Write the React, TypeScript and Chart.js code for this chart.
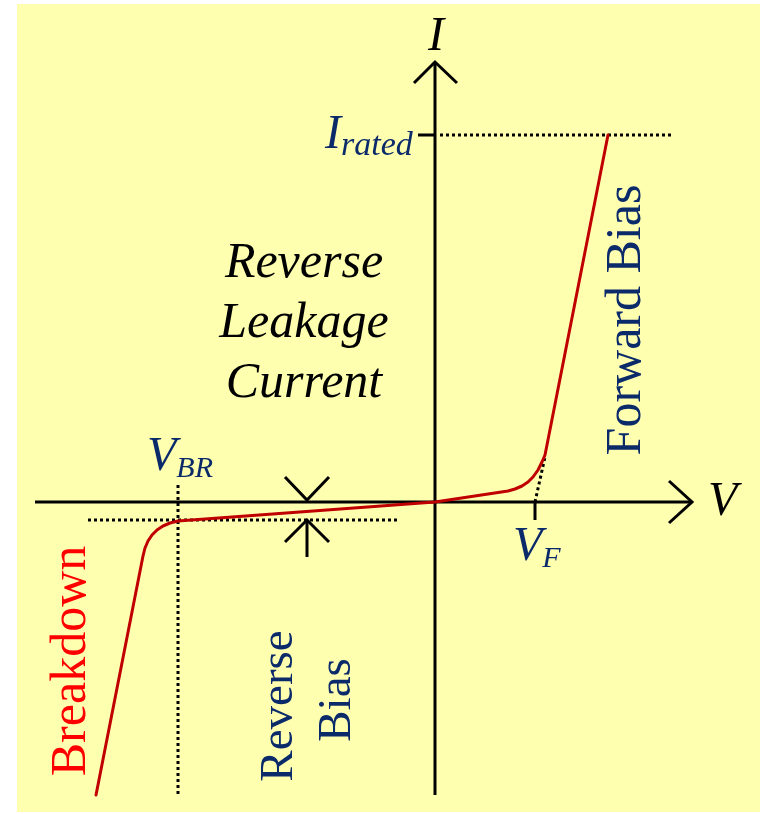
import React, { useEffect, useRef } from "react";
import { Chart, registerables } from "chart.js";
Chart.register(...registerables);

// ---- data (V in arbitrary volts-like units, I in arbitrary current units) ----
const curveV = [
  -3.39, -2.92, -2.9, -2.87, -2.83, -2.78, -2.72, -2.65, -2.57, 0,
  0.73, 0.8, 0.87, 0.93, 0.98, 1.03, 1.07, 1.1, 1.73,
];
const curveI = [
  -2.93, -0.54, -0.46, -0.39, -0.33, -0.28, -0.24, -0.21, -0.19, 0,
  0.11, 0.13, 0.16, 0.2, 0.25, 0.32, 0.4, 0.47, 3.67,
];

const V_BR = -2.57;
const V_F = 1.0;
const I_RATED = 3.67;
const I_LEAK = -0.18;

const V_AXIS = [-4.0, 2.57];
const I_AXIS = [-2.93, 4.4];

const V_RANGE = [-4.35, 3.25];
const I_RANGE = [-3.12, 5.02];

const NAVY = "#0b2a6a";
const SERIF = '"Liberation Serif", "DejaVu Serif", serif';

type Label = {
  text: string;
  v: number;
  i: number;
  size: number;
  italic?: boolean;
  color: string;
  align?: CanvasTextAlign;
  rotate?: boolean;
  sub?: string;
  subSize?: number;
  subDrop?: number;
};

const labels: Label[] = [
  { text: "I", v: 0.01, i: 4.52, size: 48, italic: true, color: "#000", align: "center" },
  { text: "I", v: -1.1, i: 3.54, size: 48, italic: true, color: NAVY, sub: "rated", subSize: 34, subDrop: 7 },
  { text: "V", v: -2.88, i: 0.32, size: 48, italic: true, color: NAVY, sub: "BR", subSize: 30, subDrop: 7 },
  { text: "V", v: 0.78, i: -0.58, size: 48, italic: true, color: NAVY, sub: "F", subSize: 30, subDrop: 7 },
  { text: "V", v: 2.73, i: -0.13, size: 48, italic: true, color: "#000" },
  { text: "Reverse", v: -1.31, i: 2.25, size: 50, italic: true, color: "#000", align: "center" },
  { text: "Leakage", v: -1.31, i: 1.65, size: 50, italic: true, color: "#000", align: "center" },
  { text: "Current", v: -1.31, i: 1.05, size: 50, italic: true, color: "#000", align: "center" },
  { text: "Forward Bias", v: 2.05, i: 1.82, size: 50, color: NAVY, align: "center", rotate: true },
  { text: "Breakdown", v: -3.5, i: -1.59, size: 50, color: "#ff0000", align: "center", rotate: true },
  { text: "Reverse", v: -1.43, i: -2.04, size: 47, color: NAVY, align: "center", rotate: true },
  { text: "Bias", v: -0.85, i: -1.98, size: 47, color: NAVY, align: "center", rotate: true },
];

const pts = (vs: number[], is: number[]) => vs.map((v, k) => ({ x: v, y: is[k] }));

const backgroundPlugin = {
  id: "bg",
  beforeDraw(chart: any) {
    const { ctx } = chart;
    ctx.save();
    ctx.fillStyle = "#ffffff";
    ctx.fillRect(0, 0, chart.width, chart.height);
    ctx.fillStyle = "#ffffb0";
    ctx.fillRect(17, 4, chart.width - 17, chart.height - 6);
    ctx.restore();
  },
};

const labelPlugin = {
  id: "labels",
  afterDatasetsDraw(chart: any) {
    const { ctx } = chart;
    const xs = chart.scales.x;
    const ys = chart.scales.y;
    ctx.save();
    for (const l of labels) {
      const px = xs.getPixelForValue(l.v);
      const py = ys.getPixelForValue(l.i);
      ctx.fillStyle = l.color;
      ctx.font = `${l.italic ? "italic " : ""}${l.size}px ${SERIF}`;
      ctx.textBaseline = "alphabetic";
      ctx.textAlign = l.align || "left";
      if (l.rotate) {
        ctx.save();
        ctx.translate(px, py);
        ctx.rotate(-Math.PI / 2);
        ctx.fillText(l.text, 0, 0);
        ctx.restore();
      } else {
        ctx.fillText(l.text, px, py);
        if (l.sub) {
          const w = ctx.measureText(l.text).width;
          ctx.font = `italic ${l.subSize}px ${SERIF}`;
          ctx.textAlign = "left";
          ctx.fillText(l.sub, px + w, py + (l.subDrop || 0));
        }
      }
    }
    ctx.restore();
  },
};

export default function App() {
  const ref = useRef<HTMLCanvasElement | null>(null);

  useEffect(() => {
    if (!ref.current) return;
    const solid = (data: any[], color = "#000", width = 3) => ({
      data,
      showLine: true,
      borderColor: color,
      borderWidth: width,
      pointRadius: 0,
      tension: 0,
      borderCapStyle: "butt",
      borderJoinStyle: "miter",
    });
    const dotted = (data: any[]) => ({
      ...solid(data, "#000", 3),
      borderDash: [3, 3],
    });

    const datasets: any[] = [
      {
        ...solid(pts(curveV, curveI), "#c00000", 3),
        borderJoinStyle: "round",
        borderCapStyle: "round",
      },
      // axes
      solid([{ x: V_AXIS[0], y: 0 }, { x: V_AXIS[1], y: 0 }]),
      solid([{ x: 0, y: I_AXIS[0] }, { x: 0, y: I_AXIS[1] }]),
      // arrowheads
      solid([{ x: V_AXIS[1] - 0.23, y: 0.21 }, { x: V_AXIS[1], y: 0 }, { x: V_AXIS[1] - 0.23, y: -0.21 }]),
      solid([{ x: -0.21, y: I_AXIS[1] - 0.21 }, { x: 0, y: I_AXIS[1] }, { x: 0.22, y: I_AXIS[1] - 0.21 }]),
      // ticks
      solid([{ x: -0.17, y: I_RATED }, { x: 0, y: I_RATED }]),
      solid([{ x: V_F, y: 0 }, { x: V_F, y: -0.18 }]),
      // dotted guides
      dotted([{ x: 0.05, y: I_RATED }, { x: 2.38, y: I_RATED }]),
      dotted([{ x: V_BR, y: 0.17 }, { x: V_BR, y: -2.93 }]),
      dotted([{ x: -3.47, y: I_LEAK }, { x: -0.37, y: I_LEAK }]),
      dotted([{ x: V_F, y: 0 }, { x: 1.1, y: 0.45 }]),
      // leakage current indicator arrows
      solid([{ x: -1.5, y: 0.25 }, { x: -1.28, y: 0.02 }, { x: -1.06, y: 0.25 }]),
      solid([{ x: -1.5, y: I_LEAK - 0.22 }, { x: -1.28, y: I_LEAK }, { x: -1.06, y: I_LEAK - 0.22 }]),
      solid([{ x: -1.28, y: I_LEAK }, { x: -1.28, y: -0.55 }]),
    ];

    const chart = new Chart(ref.current, {
      type: "scatter",
      data: { datasets },
      options: {
        responsive: false,
        animation: false,
        devicePixelRatio: 1,
        events: [],
        layout: { padding: 0 },
        plugins: { legend: { display: false }, tooltip: { enabled: false } },
        scales: {
          x: { type: "linear", min: V_RANGE[0], max: V_RANGE[1], display: false },
          y: { type: "linear", min: I_RANGE[0], max: I_RANGE[1], display: false },
        },
      } as any,
      plugins: [backgroundPlugin, labelPlugin],
    });
    return () => chart.destroy();
  }, []);

  return (
    <div style={{ position: "absolute", left: 0, top: 0, width: 760, height: 814 }}>
      <canvas ref={ref} width={760} height={814} style={{ display: "block" }} />
    </div>
  );
}
